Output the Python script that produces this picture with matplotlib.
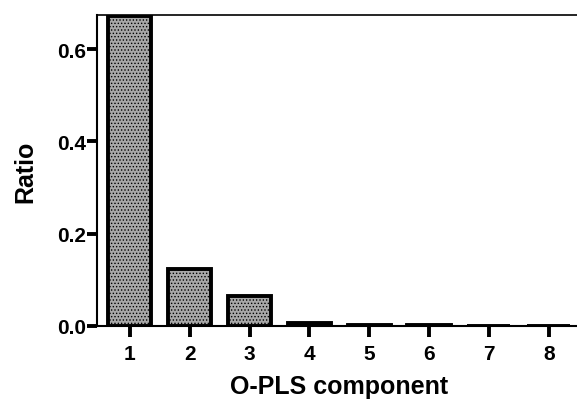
import matplotlib
matplotlib.use("Agg")
import matplotlib.pyplot as plt

plt.rcParams['font.family'] = ['Liberation Sans', 'DejaVu Sans']
plt.rcParams['hatch.color'] = '#4a4a4a'
plt.rcParams['hatch.linewidth'] = 0.6

# O-PLS components and their ratio
components = [1, 2, 3, 4, 5, 6, 7, 8]
ratio = [0.672, 0.123, 0.064, 0.006, 0.002, 0.001, 0.0005, 0.0003]

fig = plt.figure(figsize=(5.77, 4.02), dpi=100)
ax = fig.add_axes([0.168, 0.187, 0.84, 0.773])

ax.bar(components, ratio, width=0.72, color='#a8a8a8', edgecolor='black',
       linewidth=2.8, hatch='.....')

ax.set_xlim(0.45, 8.55)
ax.set_ylim(0, 0.674)
ax.set_xticks(components)
ax.set_yticks([0.0, 0.2, 0.4, 0.6])
ax.set_yticklabels(["0.0", "0.2", "0.4", "0.6"])

for lbl in ax.get_xticklabels() + ax.get_yticklabels():
    lbl.set_fontweight('bold')
    lbl.set_fontsize(15)

ax.tick_params(axis='y', direction='out', length=7, width=2.8, color='black', pad=1)
ax.tick_params(axis='x', direction='out', length=8, width=2.8, color='black', pad=5)
ax.spines['right'].set_visible(False)
ax.spines['top'].set_linewidth(1.2)
ax.spines['left'].set_linewidth(1.5)
ax.spines['bottom'].set_linewidth(1.5)

ax.set_xlabel("O-PLS component", fontsize=18, fontweight='bold', labelpad=8)
ax.set_ylabel("Ratio", fontsize=18, fontweight='bold', labelpad=14)

fig.savefig("out.png", dpi=100)
